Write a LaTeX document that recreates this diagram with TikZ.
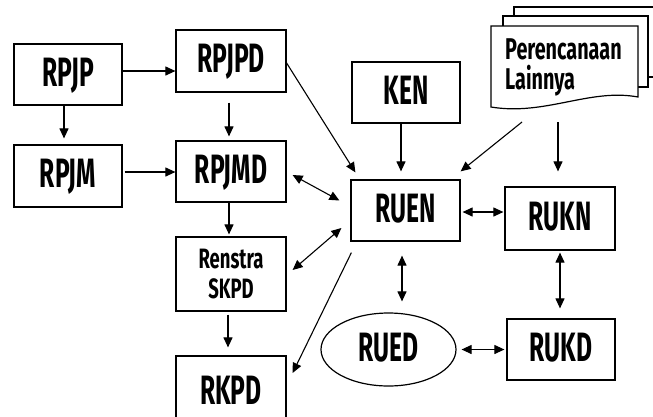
\documentclass[tikz,border=0pt]{standalone}
\usepackage{fontspec}
\newfontfamily\lblfont{Fira Sans}
\usetikzlibrary{arrows.meta,shapes.geometric,calc}
% narrow the label lettering horizontally
\newcommand\cond[1]{\scalebox{0.6}[1]{#1}}
\newcommand\condw[1]{\scalebox{0.66}[1]{#1}}

\begin{document}
\begin{tikzpicture}[x=1pt,y=-1pt,
  box/.style={draw,line width=1.2pt,inner sep=0pt,text depth=5pt,
    font=\lblfont\bfseries\fontsize{41}{41}\selectfont},
  smallbox/.style={draw,line width=1.2pt,inner sep=0pt,align=center,
    font=\lblfont\bfseries\fontsize{28}{30}\selectfont},
  oval/.style={draw,ellipse,line width=1.2pt,inner sep=0pt,text depth=5pt,
    font=\lblfont\bfseries\fontsize{41}{41}\selectfont},
  page/.style={draw,fill=white,line width=1.2pt,line join=miter},
  arr/.style={line width=1.1pt,-{Triangle[length=10pt,width=9pt]}},
  darr/.style={line width=1.1pt,{Triangle[length=10pt,width=9pt]}-{Triangle[length=10pt,width=9pt]}}
]
\useasboundingbox (0,0) rectangle (653,416);
\clip (0,0) rectangle (653,416);

% planning boxes, left column pair
\node[box,minimum width=108pt,minimum height=61pt] (rpjp)  at (68,74.5)  {\cond{RPJP}};
\node[box,minimum width=110pt,minimum height=62pt] (rpjpd) at (231,61)   {\cond{RPJPD}};
\node[box,minimum width=108pt,minimum height=62pt] (rpjm)  at (68,176)   {\cond{RPJM}};
\node[box,minimum width=110pt,minimum height=61pt] (rpjmd) at (231,171.5) {\cond{RPJMD}};
\node[smallbox,minimum width=110pt,minimum height=74pt] (renstra) at (231,274) {\condw{Renstra}\\\condw{SKPD}};
\node[box,minimum width=110pt,minimum height=74pt] (rkpd)  at (231,393)  {\cond{RKPD}};

% energy plans
\node[box,minimum width=108pt,minimum height=61pt] (ken)  at (406,92.5)  {\cond{KEN}};
\node[box,minimum width=109pt,minimum height=61pt] (ruen) at (405.5,210.5) {\cond{RUEN}};
\node[box,minimum width=110pt,minimum height=63pt] (rukn) at (560,218.5) {\cond{RUKN}};
\node[box,minimum width=108pt,minimum height=61pt] (rukd) at (561,349.5) {\cond{RUKD}};
\node[oval,minimum width=135pt,minimum height=73pt] (rued) at (388.5,349.5) {\cond{RUED}};

% stacked document shape
\draw[page] (514,7) rectangle (665,77);
\draw[page] (503,16) rectangle (648,87);
\draw[page] (491,26) -- (638,26) -- (638,97)
  .. controls (590,88) and (545,116) .. (491,107) -- cycle;
\node[anchor=north west,inner sep=0pt,align=left,
  font=\lblfont\bfseries\fontsize{30}{30}\selectfont] (doc) at (505,39) {\condw{Perencanaan}\\\condw{Lainnya}};
\coordinate (docout1) at (522,122);
\coordinate (docout2) at (558,122);

% connectors
\coordinate (a1) at ([shift={(0,-3.5)}]rpjp.east);
\draw[arr] (a1) -- (a1 -| rpjpd.west);
\draw[arr,shorten >=6pt] ([xshift=-4pt]rpjp.south) -- ([xshift=-4pt]rpjm.north);
\draw[arr,shorten <=10pt,shorten >=4pt] ([xshift=-2pt]rpjpd.south) -- ([xshift=-2pt]rpjmd.north);
\coordinate (a4) at ([shift={(2,-4)}]rpjm.east);
\draw[arr] (a4) -- (a4 -| rpjmd.west);
\draw[arr,shorten >=2pt] ([xshift=-2pt]rpjmd.south) -- ([xshift=-2pt]renstra.north);
\draw[arr,shorten <=3pt,shorten >=8pt] ([xshift=-3pt]renstra.south) -- ([xshift=-3pt]rkpd.north);

\coordinate (a7) at ([xshift=-5pt]ken.south);
\draw[arr,shorten >=8pt] (a7) -- (a7 |- ruen.north);
\draw[arr] ([shift={(0,2)}]rpjpd.east) -- ([shift={(5,-7)}]ruen.north west);
\draw[arr] (docout1) -- ([shift={(0,-8)}]ruen.north east);
\draw[arr,shorten >=15pt] (docout2) -- (docout2 |- rukn.north);

\draw[darr] ([shift={(6,3.5)}]rpjmd.east) -- ([shift={(-11,-10)}]ruen.west);
\draw[darr] ([shift={(6,-4)}]renstra.east) -- ([shift={(-9,17.5)}]ruen.west);
\draw[arr] ([shift={(1,11)}]ruen.south west) -- ([shift={(6,-20)}]rkpd.east);

\coordinate (a14) at ([shift={(2,1.5)}]ruen.east);
\draw[darr,shorten >=1pt] (a14) -- (a14 -| rukn.west);
\coordinate (a15) at ([xshift=-3.5pt]ruen.south);
\draw[darr,shorten <=14pt,shorten >=11pt] (a15) -- (a15 |- rued.north);
\draw[darr,shorten <=2pt,shorten >=10pt] (rukn.south) -- (rukn.south |- rukd.north);
\draw[darr,shorten <=5pt,shorten >=2pt] (rued.east) -- (rued.east -| rukd.west);
\end{tikzpicture}
\end{document}
